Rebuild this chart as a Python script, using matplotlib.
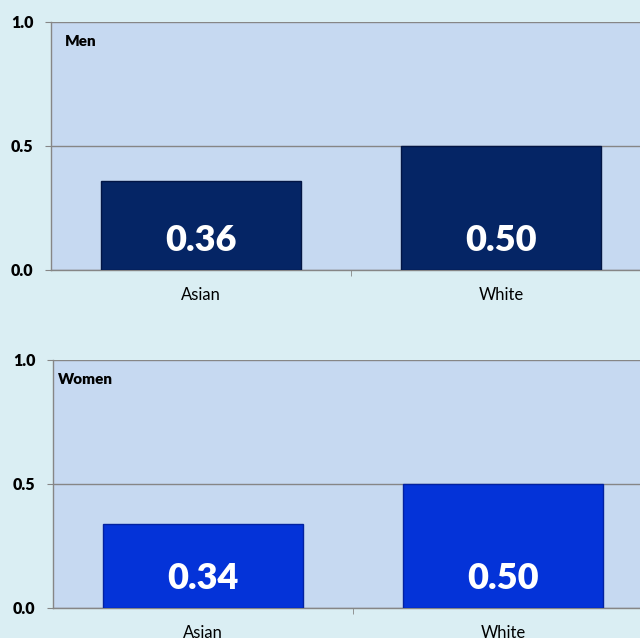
import matplotlib
matplotlib.use("Agg")
import matplotlib.pyplot as plt

categories = ["Asian", "White"]
men_values = [0.36, 0.50]
women_values = [0.34, 0.50]
men_labels = ["0.36", "0.50"]
women_labels = ["0.34", "0.50"]
yticks = [0.0, 0.5, 1.0]
ytick_labels = ["0.0", "0.5", "1.0"]

plt.rcParams['font.family'] = ['Lato', 'DejaVu Sans']

fig = plt.figure(figsize=(6.4, 6.38), dpi=100)
fig.patch.set_facecolor('#daeef3')

H = 638.0
W = 640.0
panels = [
    dict(left=51, top=22, bottom=270, values=men_values, labels=men_labels,
         color='#052565', edge='#021544', title='Men', tx=65),
    dict(left=53, top=360, bottom=608, values=women_values, labels=women_labels,
         color='#0433d8', edge='#0322a0', title='Women', tx=58),
]

for p in panels:
    ax = fig.add_axes([p['left'] / W, (H - p['bottom']) / H, 600 / W,
                       (p['bottom'] - p['top']) / H])
    ax.set_facecolor('#c6d9f1')
    x = list(range(len(categories)))
    ax.bar(x, p['values'], width=0.667, color=p['color'], edgecolor=p['edge'],
           linewidth=1.0, zorder=3)
    for xi, lab in zip(x, p['labels']):
        ax.text(xi, 0.12, lab, ha='center', va='center', color='white',
                fontsize=26, fontweight='heavy', zorder=4)
    ax.set_xlim(-0.5, 1.5)
    ax.set_ylim(0, 1.0)
    ax.set_yticks(yticks)
    ax.set_yticklabels(ytick_labels, fontsize=11.5, fontweight='heavy')
    ax.set_xticks(x)
    ax.set_xticklabels(categories, fontsize=12)
    ax.set_xticks([0.5], minor=True)
    ax.tick_params(axis='x', which='major', length=0, pad=12)
    ax.tick_params(axis='x', which='minor', length=4.5, color='#868686', direction='out')
    ax.tick_params(axis='y', length=4.5, color='#868686', pad=8)
    ax.yaxis.grid(True, color='#868686', linewidth=1.0, zorder=0)
    ax.set_axisbelow(True)
    for s in ['top', 'right']:
        ax.spines[s].set_visible(False)
    for s in ['left', 'bottom']:
        ax.spines[s].set_color('#868686')
        ax.spines[s].set_linewidth(1.0)
    ax.text((p['tx'] - p['left']) / 600, 1 - 20 / 248, p['title'], transform=ax.transAxes,
            ha='left', va='center', fontsize=11, fontweight='heavy', color='black')

fig.savefig('out.png', dpi=100, facecolor=fig.get_facecolor())
